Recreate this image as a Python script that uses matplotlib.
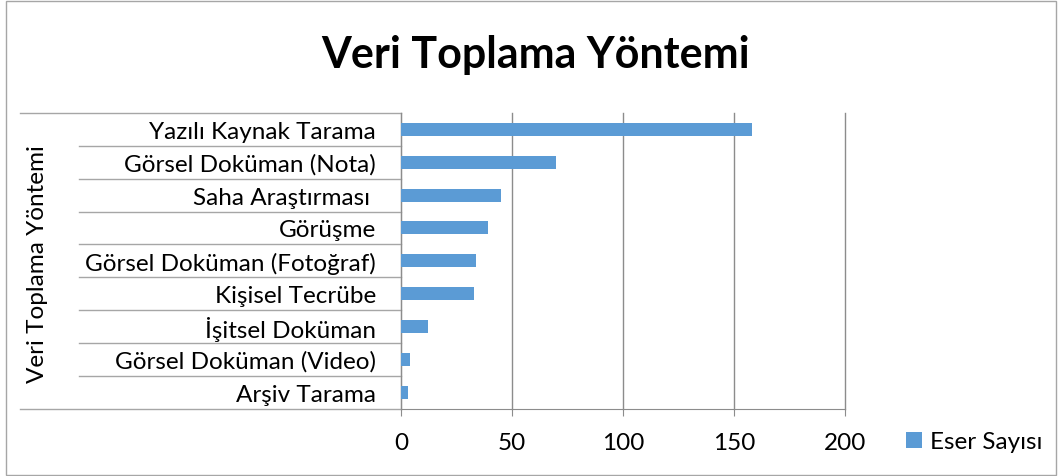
import matplotlib.pyplot as plt
import matplotlib.transforms as mtransforms
import numpy as np

plt.rcParams['font.family'] = ['Lato', 'DejaVu Sans']

yontem = ['Yazılı Kaynak Tarama', 'Görsel Doküman (Nota)', 'Saha Araştırması ',
          'Görüşme', 'Görsel Doküman (Fotoğraf)', 'Kişisel Tecrübe',
          'İşitsel Doküman', 'Görsel Doküman (Video)', 'Arşiv Tarama']
eser_sayisi = [158, 70, 45, 39, 34, 33, 12, 4, 3]
x_ticks = [0, 50, 100, 150, 200]

bar_color = '#5B9BD5'
grid_color = '#8c8c8c'
line_color = '#a6a6a6'
fs = 17.5

fig = plt.figure(figsize=(10.62, 4.77), dpi=100)
ax = fig.add_axes([401 / 1062, 1 - 409.5 / 477, 444 / 1062, 295.5 / 477])

y = np.arange(len(yontem))
ax.barh(y, eser_sayisi, height=0.4, color=bar_color, label='Eser Sayısı', zorder=3)
ax.set_ylim(len(yontem) - 0.5, -0.5)
ax.set_xlim(0, 200)
ax.set_xticks(x_ticks)
ax.set_yticks(y)
ax.set_yticklabels(yontem, fontsize=fs)
ax.set_yticks(np.arange(len(yontem) + 1) - 0.5, minor=True)
ax.tick_params(axis='y', which='major', length=0, pad=18)
ax.tick_params(axis='y', which='minor', length=4, color=grid_color, direction='out')
ax.tick_params(axis='x', length=5, color=grid_color, labelsize=fs, pad=12)
ax.grid(axis='x', color=grid_color, linewidth=1, zorder=0)
for gl in ax.get_xgridlines():
    gl.set_clip_on(False)

for s in ['top', 'right']:
    ax.spines[s].set_visible(False)
for s in ['left', 'bottom']:
    ax.spines[s].set_color(grid_color)

# category table lines to the left of the axis
trans = mtransforms.blended_transform_factory(fig.transFigure, ax.transData)
x_axis = 401 / 1062
for k, b in enumerate(np.arange(len(yontem) + 1) - 0.5):
    x0 = 20 / 1062 if k in (0, len(yontem)) else 79 / 1062
    ax.plot([x0, x_axis], [b, b], color=line_color, linewidth=1,
            transform=trans, clip_on=False)

fig.text(38 / 1062, 1 - 264 / 477, 'Veri Toplama Yöntemi', rotation=90,
         ha='center', va='center', fontsize=fs)
fig.text(536 / 1062, 1 - 55 / 477, 'Veri Toplama Yöntemi', ha='center',
         va='center', fontsize=31, fontweight='bold')

ax.legend(loc='center left', bbox_to_anchor=(884 / 1062, 1 - 443 / 477),
          bbox_transform=fig.transFigure, frameon=False, fontsize=fs,
          handlelength=0.65, handleheight=0.65, handletextpad=0.35)

# outer chart border
fig.patches.append(plt.Rectangle((6 / 1062, 1 / 477), 1050 / 1062, 474 / 477,
                                 transform=fig.transFigure, fill=False,
                                 edgecolor='#a6a6a6', linewidth=1))

fig.savefig('out.png', dpi=100)
